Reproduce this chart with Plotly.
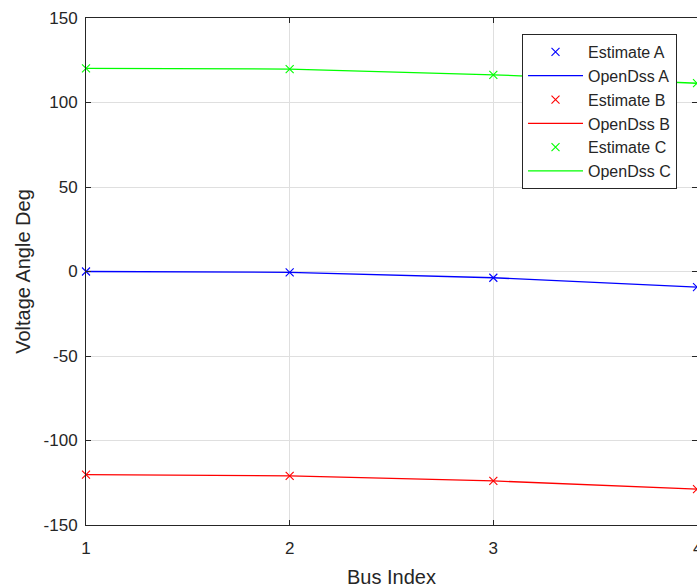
import plotly.graph_objects as go

# Bus indices and voltage angles (degrees) per phase
bus_index = [1, 2, 3, 4]

estimate_a = [0.0, -0.5, -3.7, -9.2]
opendss_a = [0.0, -0.5, -3.7, -9.2]
estimate_b = [-120.2, -120.9, -123.9, -128.8]
opendss_b = [-120.2, -120.9, -123.9, -128.8]
estimate_c = [120.2, 119.8, 116.4, 111.4]
opendss_c = [120.2, 119.8, 116.4, 111.4]

x_ticks = [1, 2, 3, 4]
y_ticks = [-150, -100, -50, 0, 50, 100, 150]

FONT = "Liberation Sans, Arial, Helvetica, sans-serif"
TEXT = "#262626"

series = [
    ("Estimate A", estimate_a, "#0000ff", "markers"),
    ("OpenDss A", opendss_a, "#0000ff", "lines"),
    ("Estimate B", estimate_b, "#ff0000", "markers"),
    ("OpenDss B", opendss_b, "#ff0000", "lines"),
    ("Estimate C", estimate_c, "#00ff00", "markers"),
    ("OpenDss C", opendss_c, "#00ff00", "lines"),
]

fig = go.Figure()
for name, vals, color, mode in series:
    if mode == "markers":
        fig.add_trace(go.Scatter(
            x=bus_index, y=vals, name=name, mode="markers",
            marker=dict(symbol="x-thin", size=8, color=color,
                        line=dict(color=color, width=1.1)),
            cliponaxis=False,
        ))
    else:
        fig.add_trace(go.Scatter(
            x=bus_index, y=vals, name=name, mode="lines",
            line=dict(color=color, width=1.3),
        ))

axis_common = dict(
    showline=True, linecolor=TEXT, linewidth=1, mirror="ticks",
    ticks="inside", ticklen=5, tickcolor=TEXT, tickwidth=1,
    showgrid=True, gridcolor="#dfdfdf", gridwidth=1, zeroline=False,
    tickfont=dict(family=FONT, size=17, color=TEXT),
)

fig.update_xaxes(
    range=[1, 4], tickvals=x_ticks, ticktext=[str(v) for v in x_ticks],
    title=dict(text="Bus Index", font=dict(family=FONT, size=20, color=TEXT), standoff=12),
    ticklabelstandoff=8,
    **axis_common,
)
fig.update_yaxes(
    range=[-150, 150], tickvals=y_ticks, ticktext=[str(v) for v in y_ticks],
    title=dict(text="Voltage Angle Deg", font=dict(family=FONT, size=20, color=TEXT), standoff=7),
    ticklabelstandoff=4,
    **axis_common,
)

# The last tick label sits on the figure's right edge; plotly drops it there,
# so it is placed as an annotation at the same data position.
fig.add_annotation(
    x=x_ticks[-1], xref="x", y=-0.0454, yref="paper",
    text=str(x_ticks[-1]), showarrow=False,
    xanchor="center", yanchor="middle",
    font=dict(family=FONT, size=17, color=TEXT),
)

fig.update_layout(
    width=697, height=588, autosize=False,
    margin=dict(l=86, r=0, t=18, b=63),
    paper_bgcolor="white", plot_bgcolor="white",
    font=dict(family=FONT, color=TEXT),
    showlegend=True,
    legend=dict(
        x=0.7136, y=0.9684, xanchor="left", yanchor="top",
        bgcolor="white", bordercolor="#262626", borderwidth=1,
        font=dict(family=FONT, size=16, color=TEXT),
        itemwidth=55,
    ),
)

fig.write_html("out.html")
